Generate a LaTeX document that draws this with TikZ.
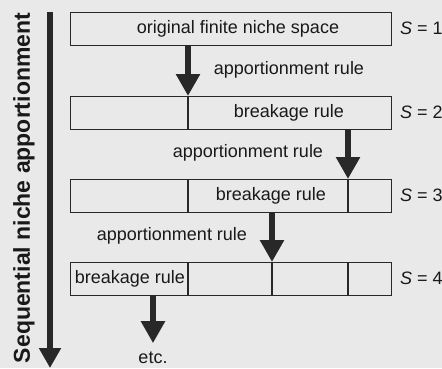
\documentclass[tikz,border=0pt]{standalone}
\usepackage{fontspec}
\setmainfont{Liberation Sans}
\usetikzlibrary{arrows.meta}
\definecolor{bg}{RGB}{233,233,233}
\definecolor{ink}{RGB}{40,40,40}
\definecolor{txt}{RGB}{25,25,25}
\begin{document}
\begin{tikzpicture}[x=1pt,y=-1pt,
  box/.style={draw=ink, line width=1.3pt, minimum width=321pt, minimum height=33pt, inner sep=0pt, anchor=north west},
  lbl/.style={font=\fontsize{18}{20}\selectfont, text=txt, inner sep=0pt},
  divider/.style={draw=ink, line width=1.3pt},
  bigarrow/.style={draw=ink, line width=6pt, -{Triangle[width=23pt,length=22pt]}},
  timearrow/.style={draw=ink, line width=6pt, -{Triangle[width=21pt,length=20pt]}},
  title/.style={font=\bfseries\fontsize{23}{25}\selectfont, text=txt, rotate=90, inner sep=0pt}
]
\fill[bg] (0,0) rectangle (442,368);
\useasboundingbox (0,0) rectangle (442,368);

% x positions of the cuts
\coordinate (c1) at (188,0);
\coordinate (c2) at (348,0);
\coordinate (c3) at (272,0);

% boxes
\node[box] (b1) at (70,12) {};
\node[box] (b2) at (70,96) {};
\node[box] (b3) at (70,179) {};
\node[box] (b4) at (70,262) {};

% dividers
\draw[divider] (b2.north -| c1) -- (b2.south -| c1);
\draw[divider] (b3.north -| c1) -- (b3.south -| c1);
\draw[divider] (b3.north -| c2) -- (b3.south -| c2);
\draw[divider] (b4.north -| c1) -- (b4.south -| c1);
\draw[divider] (b4.north -| c3) -- (b4.south -| c3);
\draw[divider] (b4.north -| c2) -- (b4.south -| c2);

% box texts
\node[lbl] (t1) at (238,28.5) {original finite niche space};
\node[lbl] (t2) at (289,112.5) {breakage rule};
\node[lbl] (t3) at (271,195.5) {breakage rule};
\node[lbl] (t4) at (130,278.5) {breakage rule};

% S labels
\node[lbl, anchor=west] (s1) at (400,28.5) {\textit{S} = 1};
\node[lbl, anchor=west] (s2) at (400,112.5) {\textit{S} = 2};
\node[lbl, anchor=west] (s3) at (400,195.5) {\textit{S} = 3};
\node[lbl, anchor=west] (s4) at (400,278.5) {\textit{S} = 4};

% apportionment labels
\node[lbl] (a1) at (289,70) {apportionment rule};
\node[lbl] (a2) at (248,153) {apportionment rule};
\node[lbl] (a3) at (172,236) {apportionment rule};

% arrows
\draw[bigarrow] (b1.south -| c1) -- (b2.north -| c1);
\draw[bigarrow] (b2.south -| c2) -- (b3.north -| c2);
\draw[bigarrow] (b3.south -| c3) -- (b4.north -| c3);
\node[lbl, anchor=base] (etc) at (153,363) {etc.};
\draw[bigarrow] (b4.south -| etc.north) -- ([yshift=8pt]etc.north);

% time axis
\coordinate (ltop) at (50,12);
\coordinate (lbot) at (50,368);
\draw[timearrow] (ltop) -- (lbot);
\node[title] (seq) at (24,188) {Sequential niche apportionment};
\end{tikzpicture}
\end{document}
